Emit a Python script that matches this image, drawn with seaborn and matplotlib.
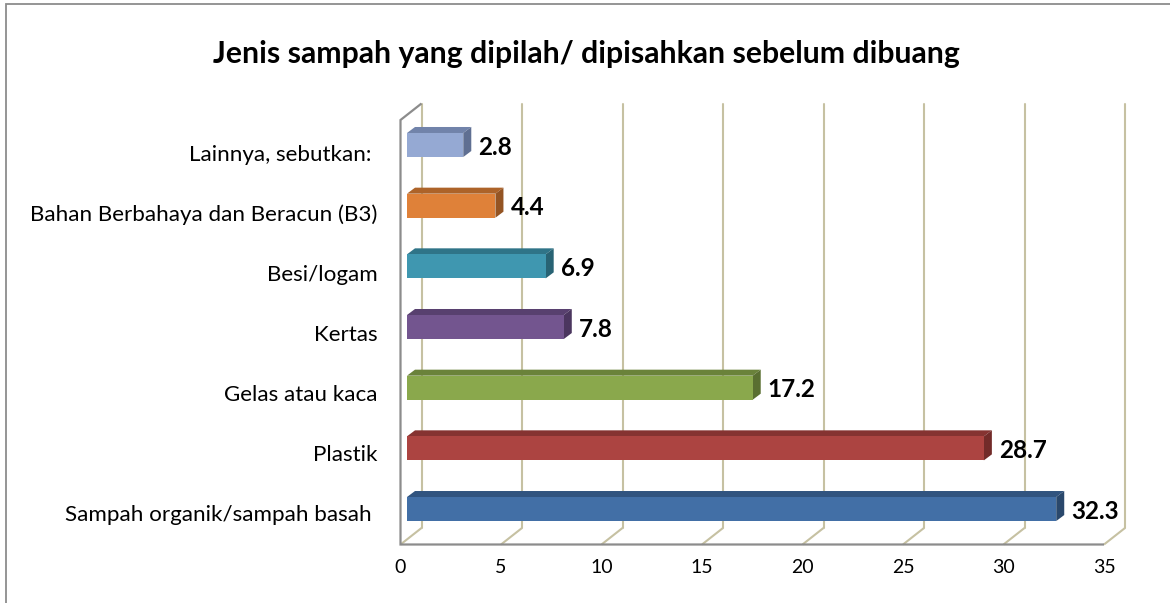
import matplotlib
matplotlib.use('Agg')
import matplotlib.pyplot as plt
import matplotlib.transforms as mtransforms
from matplotlib.patches import Polygon, Rectangle
import pandas as pd
import seaborn as sns

categories = ['Lainnya, sebutkan: ', 'Bahan Berbahaya dan Beracun (B3)', 'Besi/logam', 'Kertas',
              'Gelas atau kaca', 'Plastik', 'Sampah organik/sampah basah ']
values = [2.8, 4.4, 6.9, 7.8, 17.2, 28.7, 32.3]
front_colors = ['#95A9D3', '#DF8139', '#3F97B0', '#73558F', '#8AA84C', '#AC4441', '#426FA6']
top_colors = ['#7183AA', '#AD6329', '#2F7488', '#58406F', '#6A823A', '#853331', '#31547F']
side_colors = ['#5F6F92', '#945423', '#286374', '#4B365F', '#5A6F31', '#722B29', '#2A486C']
x_ticks = [0, 5, 10, 15, 20, 25, 30, 35]
title = 'Jenis sampah yang dipilah/ dipisahkan sebelum dibuang'

W, H = 1170, 603
grid_color = '#C6C1A2'
axis_color = '#8C8C8C'
back = (21, 16.5)   # offset of the back wall, px
bar_depth = (8, 6)  # depth of the bars, px
bar_gap = 6.5       # front of the bars sits behind the axis

sns.set_theme(style='white')
plt.rcParams['font.family'] = ['Lato', 'DejaVu Sans']

fig = plt.figure(figsize=(W / 100, H / 100), dpi=100)
left, right, top, bottom = 400.5, 1104, 120, 544.5
ax = fig.add_axes([left / W, 1 - bottom / H, (right - left) / W, (bottom - top) / H])

df = pd.DataFrame({'jenis': categories, 'persen': values})
sns.barplot(data=df, x='persen', y='jenis', hue='jenis', palette=front_colors, width=0.396,
            orient='h', legend=False, saturation=1, linewidth=0, ax=ax, zorder=5)

row = 60.67
ax.set_xlim(0, 35)
ax.set_ylim((bottom - 145) / row, (top - 145) / row)
ax.set_xlabel('')
ax.set_ylabel('')
ax.set_xticks(x_ticks)
# the row labels sit a little lower than the bars and closer together
ax.set_yticks([(8 + 60 * i) / row for i in range(len(categories))])
ax.set_yticklabels(categories)
ax.tick_params(axis='x', length=0, pad=10.5, labelsize=14, colors='black')
ax.tick_params(axis='y', length=0, pad=16.5, labelsize=16.1, colors='black')
ax.patch.set_visible(False)
for s in ax.spines.values():
    s.set_visible(False)

back_tr = ax.transData + mtransforms.Affine2D().translate(*back)
y0, y1 = ax.get_ylim()
identity = mtransforms.IdentityTransform()
for t in x_ticks:
    # vertical on the back wall, slanted on the floor
    ax.plot([t, t], [y0, y1], color=grid_color, lw=1.5, transform=back_tr, clip_on=False, zorder=1)
    xa, ya = ax.transData.transform((t, y0))
    ax.add_patch(Polygon([(xa, ya), (xa + back[0], ya + back[1])], closed=False, fill=False,
                         edgecolor=grid_color, lw=1.5, transform=identity, clip_on=False, zorder=1))

xa, ya = ax.transData.transform((0, y0))
xb, yb = ax.transData.transform((35, y1))
ax.add_patch(Polygon([(xb, ya), (xa, ya), (xa, yb), (xa + back[0], yb + back[1])], closed=False,
                     fill=False, edgecolor=axis_color, lw=1.6, transform=identity, clip_on=False, zorder=2))

for bar, top_c, side_c, v, i in zip(ax.patches, top_colors, side_colors, values, range(len(values))):
    (x1, y1b), (x2, y2b) = ax.transData.transform([(bar.get_x(), bar.get_y() + bar.get_height()),
                                                   (bar.get_x() + bar.get_width(), bar.get_y())])
    x1 += bar_gap
    x2 += bar_gap
    bar.set_transform(ax.transData + mtransforms.Affine2D().translate(bar_gap, 0))
    bar.set_clip_on(False)
    dx, dy = bar_depth
    ax.add_patch(Polygon([(x1, y2b), (x2, y2b), (x2 + dx, y2b + dy), (x1 + dx, y2b + dy)],
                         facecolor=top_c, edgecolor='none', transform=identity, clip_on=False, zorder=4))
    ax.add_patch(Polygon([(x2, y1b), (x2, y2b), (x2 + dx, y2b + dy), (x2 + dx, y1b + dy)],
                         facecolor=side_c, edgecolor='none', transform=identity, clip_on=False, zorder=4))
    ax.annotate(f'{v}', (v, i), xytext=(bar_gap + 15, -2), textcoords='offset pixels', ha='left', va='center',
                fontsize=17.5, fontweight='bold', color='black', zorder=6, annotation_clip=False)

fig.text(586 / W, 1 - 54 / H, title, ha='center', va='center', fontsize=21.7, fontweight='bold', color='black')
fig.add_artist(Rectangle((5.5 / W, -0.02), 1.1, 1.02 - 4 / H, transform=fig.transFigure, fill=False,
                         edgecolor='#8C8C8C', lw=1.3))

fig.savefig('out.png', dpi=100)
